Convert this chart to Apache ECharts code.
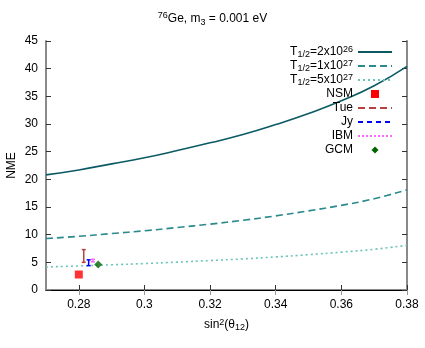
<!DOCTYPE html>
<html>
<head>
<meta charset="utf-8">
<script src="https://cdn.jsdelivr.net/npm/echarts@6/dist/echarts.min.js"></script>
<style>
  html, body { margin: 0; padding: 0; background: #fff; }
  #chart { width: 425px; height: 348px; }
</style>
</head>
<body>
<div id="chart"></div>
<script>
// sin^2(theta12) sample points
var s12 = [0.27, 0.28, 0.29, 0.30, 0.31, 0.32, 0.33, 0.34, 0.35, 0.36, 0.37, 0.38];
// NME curves for the three half-lives
var nmeT2e26 = [20.8, 21.7, 22.8, 23.9, 25.2, 26.6, 28.1, 29.9, 31.9, 34.2, 36.9, 40.4];
var nmeT1e27 = [9.3, 9.7, 10.2, 10.7, 11.3, 11.9, 12.6, 13.4, 14.3, 15.3, 16.5, 18.1];
var nmeT5e27 = [4.16, 4.35, 4.56, 4.78, 5.04, 5.32, 5.62, 5.98, 6.38, 6.84, 7.36, 8.08];
// model points: [x, y]  and error bars: [x, low, high]
var nsm = [[0.28, 2.8]];
var tue = [[0.2815, 5.0, 7.3]];
var jy = [[0.2830, 4.4, 5.45]];
var ibm = [[0.2843, 5.1, 5.55]];
var gcm = [[0.2859, 4.63]];
var xTicks = [0.28, 0.30, 0.32, 0.34, 0.36, 0.38];

function pairs(ys) {
    return s12.map(function (x, i) { return [x, ys[i]]; });
}

function errBar(color, dash) {
    return {
        type: 'custom',
        z: 5,
        renderItem: function (params, api) {
            var x = api.value(0);
            var lo = api.coord([x, api.value(1)]);
            var hi = api.coord([x, api.value(2)]);
            var w = 2;
            return {
                type: 'group',
                children: [
                    { type: 'line', shape: { x1: lo[0], y1: lo[1], x2: hi[0], y2: hi[1] }, style: { stroke: color, lineWidth: 1.5 } },
                    { type: 'line', shape: { x1: lo[0] - w, y1: lo[1], x2: lo[0] + w, y2: lo[1] }, style: { stroke: color, lineWidth: 1.5 } },
                    { type: 'line', shape: { x1: hi[0] - w, y1: hi[1], x2: hi[0] + w, y2: hi[1] }, style: { stroke: color, lineWidth: 1.5 } }
                ]
            };
        },
        encode: { x: 0, y: [1, 2] },
        data: dash
    };
}

var font = 'Liberation Sans, Arial, sans-serif';
var legRich = {
    t: { fontSize: 12, fontFamily: font, color: '#000', lineHeight: 14, verticalAlign: 'middle' },
    s: { fontSize: 9, fontFamily: font, color: '#000', lineHeight: 14, verticalAlign: 'bottom' },
    p: { fontSize: 9, fontFamily: font, color: '#000', lineHeight: 12, verticalAlign: 'top' }
};
// legend icons for the point series, padded to the full icon box
var squareIcon = 'path://M0,0 M34,10 M13,1 h8 v8 h-8 z';
var diamondIcon = 'path://M0,0 M34,10 M17,1.5 l3.5,3.5 l-3.5,3.5 l-3.5,-3.5 z';

var chart = echarts.init(document.getElementById('chart'));
chart.setOption({
    animation: false,
    backgroundColor: '#fff',
    title: {
        text: '{p|76}{t|Ge, m}{s|3}{t| = 0.001 eV}',
        left: 'center',
        top: 6,
        textStyle: {
            fontWeight: 'normal',
            rich: {
                t: { fontSize: 12, fontFamily: font, color: '#000', lineHeight: 16, verticalAlign: 'middle' },
                s: { fontSize: 9, fontFamily: font, color: '#000', lineHeight: 16, verticalAlign: 'bottom' },
                p: { fontSize: 9, fontFamily: font, color: '#000', lineHeight: 14, verticalAlign: 'top' }
            }
        }
    },
    grid: { left: 46, right: 18, top: 41, bottom: 58, outerBoundsMode: 'none', containLabel: false },
    legend: {
        orient: 'vertical',
        right: 27,
        top: 40,
        align: 'right',
        itemWidth: 34,
        itemHeight: 10,
        itemGap: 0,
        itemStyle: { opacity: 0 },
        textStyle: { rich: legRich, fontSize: 12, fontFamily: font, color: '#000', lineHeight: 14 },
        formatter: function (name) {
            if (name === 'T1') return '{t|T}{s|1/2}{t|=2x10}{p|26}';
            if (name === 'T2') return '{t|T}{s|1/2}{t|=1x10}{p|27}';
            if (name === 'T3') return '{t|T}{s|1/2}{t|=5x10}{p|27}';
            return '{t|' + name + '}';
        },
        data: ['T1', 'T2', 'T3',
            { name: 'NSM', icon: squareIcon, itemStyle: { color: '#ff0000', opacity: 1 } },
            'Tue', 'Jy', 'IBM',
            { name: 'GCM', icon: diamondIcon, itemStyle: { color: '#006400', opacity: 1 } }]
    },
    xAxis: [{
        type: 'value',
        min: 0.27,
        max: 0.38,
        name: '{t|sin}{p|2}{t|(θ}{s|12}{t|)}',
        nameLocation: 'middle',
        nameGap: 28,
        nameTextStyle: { rich: legRich },
        axisLine: { lineStyle: { color: '#8a8a8a', width: 2 } },
        axisTick: { inside: true, length: 5, lineStyle: { color: '#333' }, customValues: xTicks },
        axisLabel: {
            customValues: xTicks,
            fontSize: 12, fontFamily: font, color: '#000', margin: 9,
            formatter: function (v) { return String(+v.toFixed(2)); }
        },
        splitLine: { show: false }
    }, {
        type: 'value',
        position: 'top',
        min: 0.27,
        max: 0.38,
        axisLine: { lineStyle: { color: '#000', width: 1 } },
        axisTick: { inside: true, length: 5, lineStyle: { color: '#999' }, customValues: xTicks },
        axisLabel: { show: false },
        splitLine: { show: false }
    }],
    yAxis: [{
        type: 'value',
        min: 0,
        max: 45,
        interval: 5,
        name: 'NME',
        nameLocation: 'middle',
        nameGap: 28,
        nameMoveOverlap: false,
        nameTextStyle: { fontSize: 12, fontFamily: font, color: '#000' },
        axisLine: { show: true, lineStyle: { color: '#8a8a8a', width: 2 } },
        axisTick: { show: true, inside: true, length: 5, lineStyle: { color: '#333' } },
        axisLabel: { fontSize: 12, fontFamily: font, color: '#000', margin: 8 },
        splitLine: { show: false }
    }, {
        type: 'value',
        position: 'right',
        min: 0,
        max: 45,
        interval: 5,
        axisLine: { show: true, lineStyle: { color: '#8a8a8a', width: 2 } },
        axisTick: { show: true, inside: true, length: 5, lineStyle: { color: '#333' } },
        axisLabel: { show: false },
        splitLine: { show: false }
    }],
    series: [
        { name: 'T1', type: 'line', smooth: true, symbol: 'none', data: pairs(nmeT2e26),
          lineStyle: { color: '#0b5a63', width: 1.6 }, itemStyle: { color: '#0b5a63' } },
        { name: 'T2', type: 'line', smooth: true, symbol: 'none', data: pairs(nmeT1e27),
          lineStyle: { color: '#2a8a8c', width: 1.6, type: [7, 4] }, itemStyle: { color: '#2a8a8c' } },
        { name: 'T3', type: 'line', smooth: true, symbol: 'none', data: pairs(nmeT5e27),
          lineStyle: { color: '#6cc4b8', width: 1.6, type: [2, 3] }, itemStyle: { color: '#6cc4b8' } },
        { name: 'NSM', type: 'scatter', symbol: 'rect', symbolSize: 8, data: nsm,
          itemStyle: { color: '#ff0000' } },
        { name: 'Tue', type: 'line', symbol: 'none', data: [],
          lineStyle: { color: '#b84040', width: 1.6, type: [7, 4] }, itemStyle: { color: '#b84040' } },
        { name: 'Jy', type: 'line', symbol: 'none', data: [],
          lineStyle: { color: '#0000ff', width: 1.6, type: [5, 4] }, itemStyle: { color: '#0000ff' } },
        { name: 'IBM', type: 'line', symbol: 'none', data: [],
          lineStyle: { color: '#ff66ff', width: 1.6, type: [2, 2] }, itemStyle: { color: '#ff66ff' } },
        errBar('#b84040', tue),
        errBar('#0000ff', jy),
        errBar('#ff66ff', ibm),
        { name: 'GCM', type: 'scatter', symbol: 'diamond', symbolSize: 8, data: gcm,
          itemStyle: { color: '#006400' }, z: 6 }
    ]
});
</script>
</body>
</html>
